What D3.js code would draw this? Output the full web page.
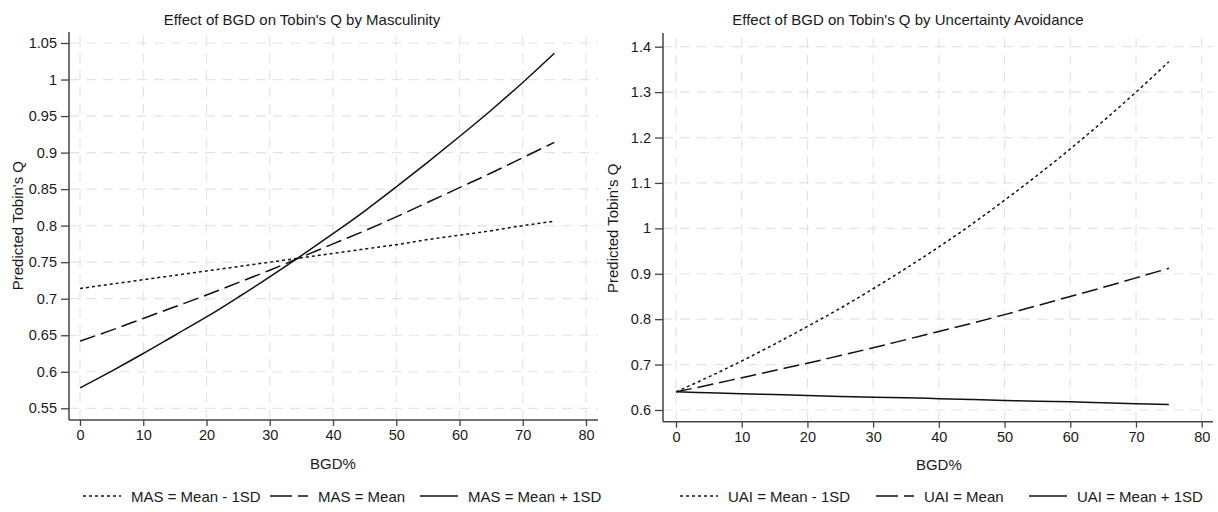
<!DOCTYPE html>
<html>
<head>
<meta charset="utf-8">
<script src="https://cdn.jsdelivr.net/npm/d3@7"></script>
<style>
  html, body { margin: 0; padding: 0; background: #fff; }
  svg { display: block; font-family: "Liberation Sans", Arial, Helvetica, sans-serif; }
</style>
</head>
<body>
<svg id="chart" width="1218" height="512"></svg>
<script>
// BGD% values at which predictions were computed
const bgd = [0, 5, 10, 15, 20, 25, 30, 35, 40, 45, 50, 55, 60, 65, 70, 75];

// Predicted Tobin's Q, moderated by Masculinity (MAS)
const masLow  = [0.714, 0.720, 0.726, 0.732, 0.738, 0.744, 0.750, 0.756, 0.762, 0.768, 0.774, 0.781, 0.787, 0.793, 0.800, 0.806];
const masMean = [0.642, 0.657, 0.673, 0.689, 0.705, 0.722, 0.739, 0.757, 0.775, 0.793, 0.812, 0.832, 0.852, 0.872, 0.893, 0.914];
const masHigh = [0.578, 0.601, 0.625, 0.650, 0.675, 0.702, 0.730, 0.759, 0.789, 0.820, 0.853, 0.887, 0.922, 0.958, 0.996, 1.036];

// Predicted Tobin's Q, moderated by Uncertainty Avoidance (UAI)
const uaiLow  = [0.640, 0.673, 0.708, 0.745, 0.784, 0.824, 0.867, 0.912, 0.959, 1.009, 1.062, 1.117, 1.175, 1.236, 1.300, 1.367];
const uaiMean = [0.640, 0.655, 0.671, 0.687, 0.703, 0.720, 0.737, 0.755, 0.773, 0.791, 0.810, 0.830, 0.850, 0.870, 0.891, 0.912];
const uaiHigh = [0.640, 0.638, 0.636, 0.634, 0.632, 0.630, 0.628, 0.627, 0.625, 0.623, 0.621, 0.619, 0.618, 0.616, 0.614, 0.612];

// Axis ticks
const xTicks = [0, 10, 20, 30, 40, 50, 60, 70, 80];
const masYTicks = [0.55, 0.6, 0.65, 0.7, 0.75, 0.8, 0.85, 0.9, 0.95, 1, 1.05];
const uaiYTicks = [0.6, 0.7, 0.8, 0.9, 1, 1.1, 1.2, 1.3, 1.4];

// Titles and legend labels
const masTitle = "Effect of BGD on Tobin's Q by Masculinity";
const uaiTitle = "Effect of BGD on Tobin's Q by Uncertainty Avoidance";
const masLabels = ["MAS = Mean - 1SD", "MAS = Mean", "MAS = Mean + 1SD"];
const uaiLabels = ["UAI = Mean - 1SD", "UAI = Mean", "UAI = Mean + 1SD"];
const xTitle = "BGD%";
const yTitle = "Predicted Tobin's Q";

// Line styles shared by both panels: -1SD dotted, mean dashed, +1SD solid
const styles = [
  { dash: "3,3" },
  { dash: "16,6" },
  { dash: null }
];

const svg = d3.select("#chart");

function drawPanel(cfg) {
  const g = svg.append("g");
  const x = d3.scaleLinear().domain([0, 80]).range(cfg.xRange);
  const y = d3.scaleLinear().domain(cfg.yDomain).range(cfg.yRange);
  const [left, right, top, bottom] = cfg.frame;

  // dashed grid
  const grid = g.append("g").attr("stroke", "#e4e4e4").attr("stroke-width", 1.2)
    .attr("stroke-dasharray", "10,7").attr("fill", "none");
  grid.selectAll("line.h").data(cfg.yTicks).join("line")
    .attr("class", "h")
    .attr("x1", left).attr("x2", right)
    .attr("y1", d => y(d)).attr("y2", d => y(d));
  grid.selectAll("line.v").data(xTicks).join("line")
    .attr("class", "v")
    .attr("x1", d => x(d)).attr("x2", d => x(d))
    .attr("y1", bottom).attr("y2", top);

  // series lines
  const line = d3.line().x((d, i) => x(bgd[i])).y(d => y(d)).curve(d3.curveMonotoneX);
  cfg.series.forEach((s, i) => {
    g.append("path").datum(s)
      .attr("fill", "none")
      .attr("stroke", "#111")
      .attr("stroke-width", 1.5)
      .attr("stroke-dasharray", styles[i].dash)
      .attr("d", line);
  });

  // axes
  const xAxis = d3.axisBottom(x).tickValues(xTicks).tickSize(6).tickPadding(4).tickFormat(d3.format("d"));
  const yAxis = d3.axisLeft(y).tickValues(cfg.yTicks).tickSize(8).tickPadding(4)
    .tickFormat(d => String(+d.toFixed(2)));

  const xa = g.append("g").attr("transform", `translate(0,${bottom})`).call(xAxis);
  const ya = g.append("g").attr("transform", `translate(${left},0)`).call(yAxis);
  [xa, ya].forEach(a => {
    a.select(".domain").remove();
    a.selectAll(".tick line").attr("stroke", "#444").attr("stroke-width", 1.3);
    a.selectAll(".tick text").attr("fill", "#1a1a1a").style("font-size", "14.5px")
      .style("font-family", "'Liberation Sans', Arial, sans-serif");
  });
  g.append("line").attr("x1", left).attr("x2", right).attr("y1", bottom).attr("y2", bottom)
    .attr("stroke", "#444").attr("stroke-width", 1.5);
  g.append("line").attr("x1", left).attr("x2", left).attr("y1", top).attr("y2", bottom)
    .attr("stroke", "#444").attr("stroke-width", 1.5);

  // titles
  g.append("text").attr("x", cfg.titleX).attr("y", 25).attr("text-anchor", "middle")
    .attr("fill", "#1a1a1a").style("font-size", "15px").text(cfg.title);
  g.append("text").attr("x", (x(0) + x(80)) / 2).attr("y", cfg.xTitleY).attr("text-anchor", "middle")
    .attr("fill", "#1a1a1a").style("font-size", "15px").text(xTitle);
  g.append("text")
    .attr("transform", `translate(${cfg.yTitleX},${(y(cfg.yDomain[0]) + y(cfg.yDomain[1])) / 2}) rotate(-90)`)
    .attr("text-anchor", "middle").attr("fill", "#1a1a1a").style("font-size", "15px").text(yTitle);

  // legend
  const lg = g.append("g").attr("transform", `translate(0,${cfg.legendY})`);
  cfg.labels.forEach((lab, i) => {
    const lx = cfg.legendX[i];
    lg.append("line").attr("x1", lx).attr("x2", lx + 38).attr("y1", 0).attr("y2", 0)
      .attr("stroke", "#111").attr("stroke-width", 1.5)
      .attr("stroke-dasharray", i === 1 ? "22,6" : styles[i].dash);
    lg.append("text").attr("x", lx + 48).attr("y", 5.5).attr("fill", "#1a1a1a")
      .style("font-size", "15px").text(lab);
  });
}

drawPanel({
  title: masTitle, titleX: 302,
  series: [masLow, masMean, masHigh],
  labels: masLabels,
  yTicks: masYTicks,
  yDomain: [0.55, 1.05],
  xRange: [80, 586], yRange: [408.3, 43],
  frame: [69, 598, 32, 420],
  xTitleY: 469, yTitleX: 23,
  legendY: 496, legendX: [83, 270, 420]
});

drawPanel({
  title: uaiTitle, titleX: 908,
  series: [uaiLow, uaiMean, uaiHigh],
  labels: uaiLabels,
  yTicks: uaiYTicks,
  yDomain: [0.6, 1.4],
  xRange: [676, 1201.7], yRange: [410, 46.7],
  frame: [663, 1213, 33, 421.7],
  xTitleY: 470, yTitleX: 618,
  legendY: 496, legendX: [680, 876, 1029]
});
</script>
</body>
</html>
